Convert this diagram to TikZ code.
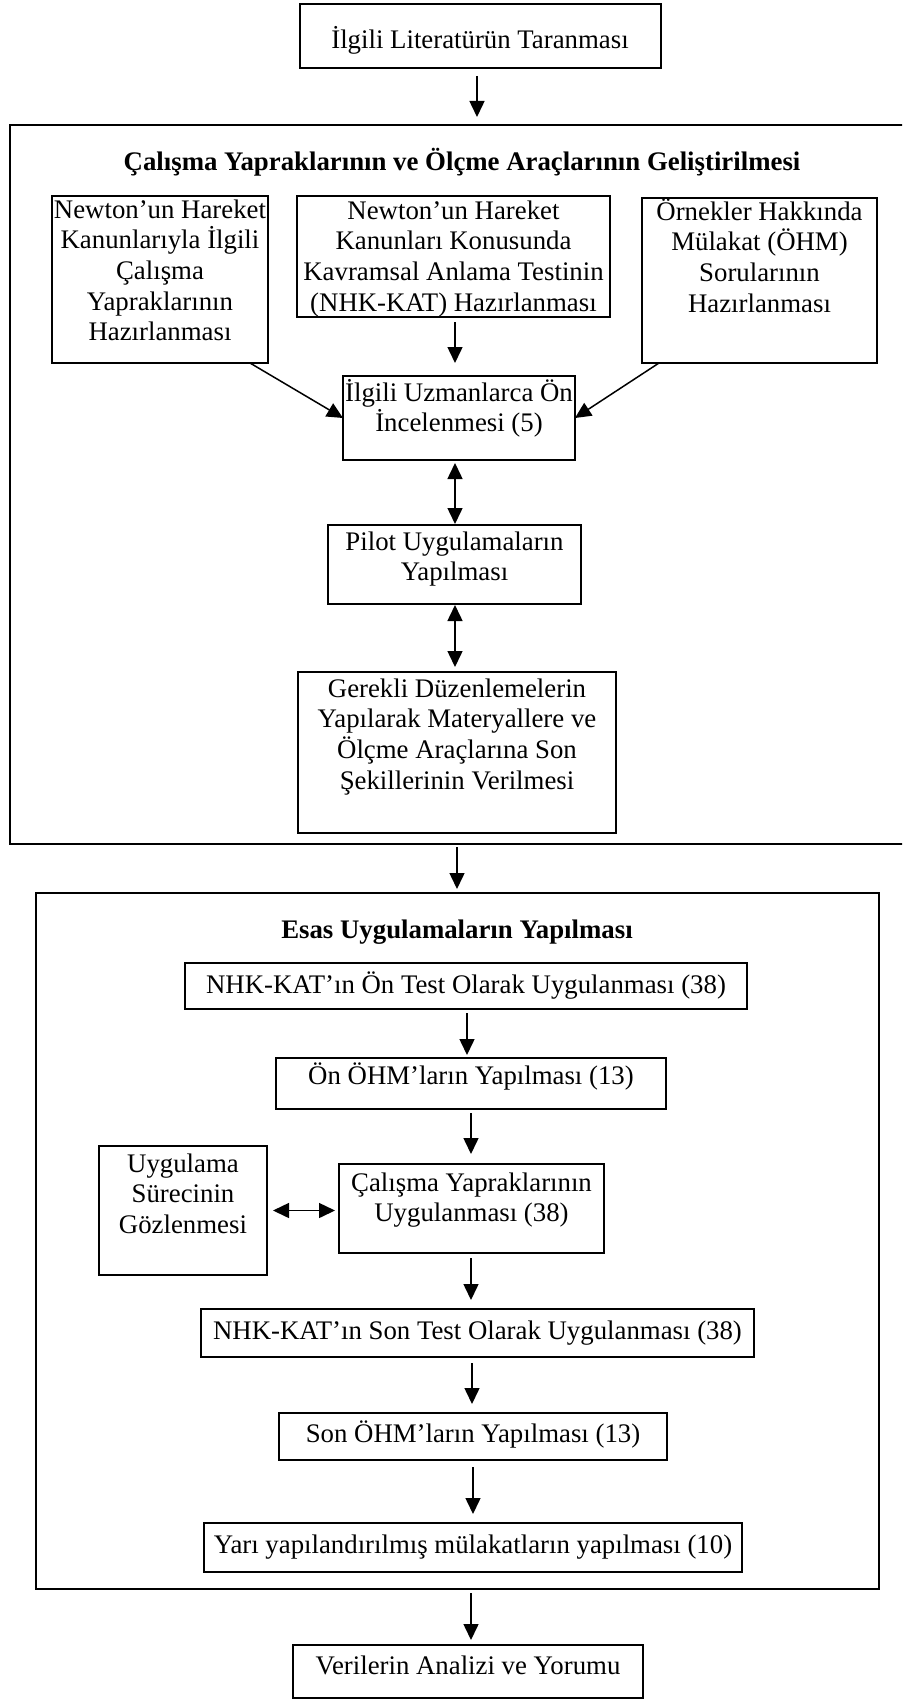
\documentclass[tikz,border=0pt]{standalone}
\usepackage{fontspec}
\setmainfont{Liberation Serif}
\usetikzlibrary{arrows.meta,fit}
% strut that fixes the height of a first text line
\newcommand\firstln{\rule{0pt}{25pt}}
\begin{document}
\begin{tikzpicture}[x=1pt,y=-1pt,
  box/.style={draw, line width=2pt, inner sep=0pt, outer sep=0pt},
  txt/.style={inner sep=0pt, outer sep=0pt, anchor=north, align=center,
    font=\fontsize{26.8}{30.7}\selectfont},
  ttl/.style={txt, font=\fontsize{26.8}{30.7}\selectfont\bfseries},
  tip/.tip={Triangle[length=16pt,width=15pt]},
  arr/.style={line width=1.5pt, -tip},
  darr/.style={line width=1.5pt, tip-tip},
]
\useasboundingbox (0,0) rectangle (902,1699);
\clip (0,0) rectangle (902,1699);

% ---- frames ----
\node[box, fit={(300,4) (661,68)}] (top) {};
\node[box, fit={(10,125) (904,844)}] (grp1) {};
\node[box, fit={(52,196) (268,363)}] (L) {};
\node[box, fit={(297,196) (610,317)}] (M) {};
\node[box, fit={(642,198) (877,363)}] (R) {};
\node[box, fit={(343,376) (575,460)}] (IU) {};
\node[box, fit={(328,525) (581,604)}] (P) {};
\node[box, fit={(298,672) (616,833)}] (G) {};
\node[box, fit={(36,893) (879,1589)}] (grp2) {};
\node[box, fit={(185,963) (747,1009)}] (A1) {};
\node[box, fit={(276,1058) (666,1109)}] (A2) {};
\node[box, fit={(99,1146) (267,1275)}] (U) {};
\node[box, fit={(339,1164) (604,1253)}] (C) {};
\node[box, fit={(201,1309) (754,1357)}] (A3) {};
\node[box, fit={(279,1413) (667,1460)}] (A4) {};
\node[box, fit={(204,1523) (742,1572)}] (A5) {};
\node[box, fit={(293,1645) (643,1698)}] (V) {};

% ---- texts (node y = first baseline - 25) ----
\node[txt] (top-t) at (480,24) {\firstln İlgili Literatürün Taranması};
\node[ttl] (grp1-t) at (462,146) {\firstln Çalışma Yapraklarının ve Ölçme Araçlarının Geliştirilmesi};
\node[txt] (L-t) at (160,193) {\firstln Newton’un Hareket\\Kanunlarıyla İlgili\\Çalışma\\Yapraklarının\\Hazırlanması};
\node[txt] (M-t) at (453.5,194) {\firstln Newton’un Hareket\\Kanunları Konusunda\\Kavramsal Anlama Testinin\\(NHK-KAT) Hazırlanması};
\node[txt] (R-t) at (759.5,195) {\firstln Örnekler Hakkında\\Mülakat (ÖHM)\\Sorularının\\Hazırlanması};
\node[txt] (IU-t) at (459,376) {\firstln İlgili Uzmanlarca Ön\\İncelenmesi (5)};
\node[txt] (P-t) at (454.5,525) {\firstln Pilot Uygulamaların\\Yapılması};
\node[txt] (G-t) at (457,672) {\firstln Gerekli Düzenlemelerin\\Yapılarak Materyallere ve\\Ölçme Araçlarına Son\\Şekillerinin Verilmesi};
\node[ttl] (grp2-t) at (457,913) {\firstln Esas Uygulamaların Yapılması};
\node[txt] (A1-t) at (466,968) {\firstln NHK-KAT’ın Ön Test Olarak Uygulanması (38)};
\node[txt] (A2-t) at (471,1059) {\firstln Ön ÖHM’ların Yapılması (13)};
\node[txt] (U-t) at (183,1147) {\firstln Uygulama\\Sürecinin\\Gözlenmesi};
\node[txt] (C-t) at (471.5,1166) {\firstln Çalışma Yapraklarının\\Uygulanması (38)};
\node[txt] (A3-t) at (477.5,1314) {\firstln NHK-KAT’ın Son Test Olarak Uygulanması (38)};
\node[txt] (A4-t) at (473,1417) {\firstln Son ÖHM’ların Yapılması (13)};
\node[txt] (A5-t) at (473,1528) {\firstln Yarı yapılandırılmış mülakatların yapılması (10)};
\node[txt] (V-t) at (468,1649) {\firstln Verilerin Analizi ve Yorumu};

% ---- connectors ----
\draw[arr, shorten <=8pt, shorten >=8pt] ([xshift=-3.5pt]top.south) -- ([xshift=-3.5pt]top.south |- grp1.north);
\draw[arr, shorten <=5pt, shorten >=13pt] ([xshift=1.5pt]M.south) -- ([xshift=1.5pt]M.south |- IU.north);
\draw[arr] ([xshift=90pt]L.south) -- (IU.west);
\draw[arr] ([xshift=-100.5pt]R.south) -- (IU.east);
\draw[darr, shorten <=3pt, shorten >=1pt] ([xshift=-4pt]IU.south) -- ([xshift=-4pt]IU.south |- P.north);
\draw[darr, shorten <=1pt, shorten >=5pt] ([xshift=0.5pt]P.south) -- ([xshift=0.5pt]P.south |- G.north);
\draw[arr, shorten <=3pt, shorten >=4pt] (grp1.south) -- (grp1.south |- grp2.north);
\draw[arr, shorten <=4pt, shorten >=3pt] ([xshift=1pt]A1.south) -- ([xshift=1pt]A1.south |- A2.north);
\draw[arr, shorten <=4pt, shorten >=10pt] (A2.south) -- (A2.south |- C.north);
\draw[arr, shorten <=5pt, shorten >=9pt] ([xshift=-0.5pt]C.south) -- ([xshift=-0.5pt]C.south |- A3.north);
\draw[arr, shorten <=6pt, shorten >=9pt] ([xshift=-5.5pt]A3.south) -- ([xshift=-5.5pt]A3.south |- A4.north);
\draw[arr, shorten <=7pt, shorten >=9pt] (A4.south) -- (A4.south |- A5.north);
\draw[arr, shorten <=4pt, shorten >=5pt] ([xshift=3pt]V.north |- grp2.south) -- ([xshift=3pt]V.north);
\draw[darr, shorten <=6pt, shorten >=4pt] (U.east) -- (U.east -| C.west);
\end{tikzpicture}
\end{document}
